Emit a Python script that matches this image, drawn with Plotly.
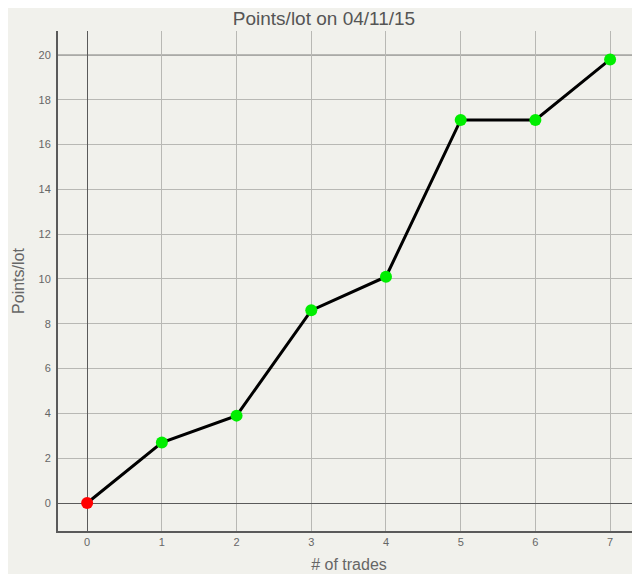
import plotly.graph_objects as go

# trade data
trades = [0, 1, 2, 3, 4, 5, 6, 7]
points = [0, 2.7, 3.9, 8.6, 10.1, 17.1, 17.1, 19.8]
marker_colors = ['#ff0000', '#00ee00', '#00ee00', '#00ee00',
                 '#00ee00', '#00ee00', '#00ee00', '#00ee00']

bg = '#f1f1ec'
font_name = 'Liberation Sans'

fig = go.Figure()
fig.add_trace(go.Scatter(x=trades, y=points, mode='lines+markers',
                         line=dict(color='black', width=3),
                         marker=dict(color=marker_colors, size=12),
                         showlegend=False))

# darker line at the top grid value
fig.add_hline(y=20, line=dict(color='#5a5a5a', width=1), layer='below')

fig.update_xaxes(range=[-0.39, 7.4], dtick=1, showgrid=True, gridcolor='#b8b8b4',
                 zeroline=True, zerolinecolor='#5a5a5a', zerolinewidth=1,
                 showline=True, linecolor='#5a5a5a', linewidth=2,
                 ticks='', ticklabelstandoff=0, tickfont=dict(size=11, color='#666'),
                 title=dict(text='# of trades', font=dict(size=16, color='#666'), standoff=12))
fig.update_yaxes(range=[-1.25, 21.07], dtick=2, showgrid=True, gridcolor='#b8b8b4',
                 zeroline=True, zerolinecolor='#5a5a5a', zerolinewidth=1,
                 showline=True, linecolor='#5a5a5a', linewidth=2,
                 ticks='', ticklabelstandoff=3, tickfont=dict(size=11, color='#666'),
                 title=dict(text='Points/lot', font=dict(size=16, color='#666'), standoff=10))

# the page adds an 8px body margin, so the figure is 8px smaller
fig.update_layout(width=632, height=566,
                  title=dict(text='Points/lot on 04/11/15', x=0.5, xanchor='center',
                             y=0.982, yanchor='middle', font=dict(size=19, color='#555')),
                  font=dict(family=font_name),
                  paper_bgcolor=bg, plot_bgcolor=bg,
                  margin=dict(l=50, r=0, t=23, b=43))

fig.write_html('out.html')
